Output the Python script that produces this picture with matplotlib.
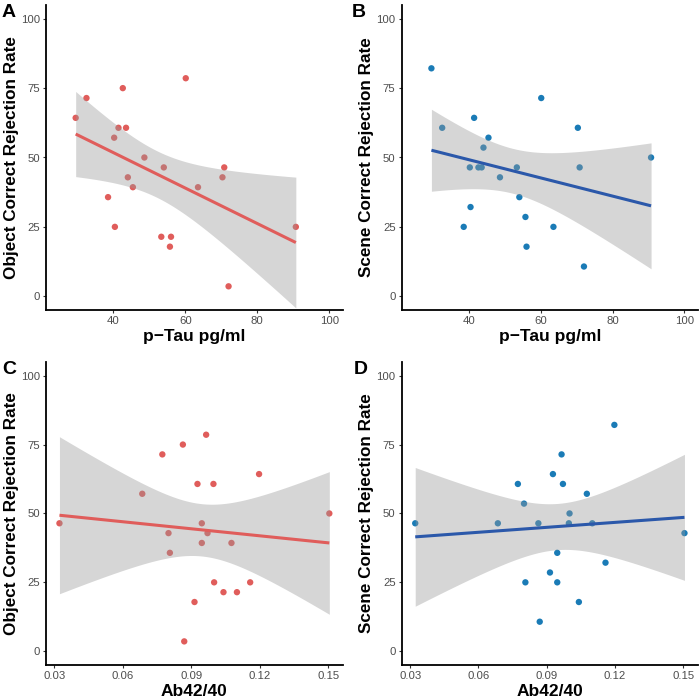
import numpy as np
import matplotlib
matplotlib.use("Agg")
import matplotlib.pyplot as plt

plt.rcParams['font.family'] = ['Liberation Sans', 'DejaVu Sans']

# Per-subject data
ptau = [29.5, 32.5, 38.5, 40.2, 40.4, 41.4, 42.6, 43.5, 44.0, 45.4, 48.6,
        53.3, 54.0, 55.7, 56.0, 60.1, 63.5, 70.3, 70.8, 72.0, 90.7]
ab4240 = [0.1197, 0.0773, 0.0806, 0.0685, 0.1158, 0.0927, 0.0863, 0.0997,
          0.0800, 0.1076, 0.1505, 0.1100, 0.0946, 0.0914, 0.1041, 0.0965,
          0.0946, 0.0971, 0.0322, 0.0869, 0.1000]
object_cr = [64.29, 71.43, 35.71, 57.14, 25.00, 60.71, 75.00, 60.71, 42.86,
             39.29, 50.00, 21.43, 46.43, 17.86, 21.43, 78.57, 39.29, 42.86,
             46.43, 3.57, 25.00]
scene_cr = [82.14, 60.71, 25.00, 46.43, 32.14, 64.29, 46.43, 46.43, 53.57,
            57.14, 42.86, 46.43, 35.71, 28.57, 17.86, 71.43, 25.00, 60.71,
            46.43, 10.71, 50.00]

y_ticks = [0, 25, 50, 75, 100]
ptau_ticks = [40, 60, 80, 100]
ab_ticks = [0.03, 0.06, 0.09, 0.12, 0.15]
ab_ticklabels = ["0.03", "0.06", "0.09", "0.12", "0.15"]

RED = "#E05D5B"
BLUE_PT = "#1A7BB6"
BLUE_LN = "#2B58AA"
T975_DF19 = 2.093  # t quantile for 95% CI, n-2 = 19 df

fig = plt.figure(figsize=(7, 7), dpi=100)

def panel(rect, x, y, pcol, lcol, xlabel, ylabel, xlim, xticks, xticklabels):
    ax = fig.add_axes(rect)
    x = np.asarray(x, float); y = np.asarray(y, float)
    ax.scatter(x, y, s=21, color=pcol, edgecolors='none', zorder=2)
    n = len(x)
    b1, b0 = np.polyfit(x, y, 1)
    xs = np.linspace(x.min(), x.max(), 80)
    yhat = b0 + b1 * xs
    resid = y - (b0 + b1 * x)
    s = np.sqrt(np.sum(resid ** 2) / (n - 2))
    sxx = np.sum((x - x.mean()) ** 2)
    se = s * np.sqrt(1.0 / n + (xs - x.mean()) ** 2 / sxx)
    ax.fill_between(xs, yhat - T975_DF19 * se, yhat + T975_DF19 * se,
                    color="#999999", alpha=0.4, linewidth=0, zorder=3)
    ax.plot(xs, yhat, color=lcol, lw=2.2, zorder=4, solid_capstyle='butt')
    ax.set_ylim(-5, 105)
    ax.set_xlim(*xlim)
    ax.set_yticks(y_ticks)
    ax.set_xticks(xticks)
    if xticklabels is not None:
        ax.set_xticklabels(xticklabels)
    for sp in ['top', 'right']:
        ax.spines[sp].set_visible(False)
    for sp in ['left', 'bottom']:
        ax.spines[sp].set_linewidth(1.3)
        ax.spines[sp].set_color('black')
    ax.tick_params(axis='both', labelsize=8.2, colors='#333333',
                   labelcolor='#4D4D4D', length=2.5, width=0.8, pad=2)
    ax.set_xlabel(xlabel, fontsize=12.5, fontweight='bold', labelpad=2)
    ax.set_ylabel(ylabel, fontsize=12.3, fontweight='bold', labelpad=1.5)
    return ax

ptau_lim = (21.25, 103.75)
ab_lim = (0.0263, 0.1564)

panel([0.0657, 0.557, 0.424, 0.436], ptau, object_cr, RED, RED,
      "p\u2212Tau pg/ml", "Object Correct Rejection Rate", ptau_lim, ptau_ticks, None)
panel([0.574, 0.557, 0.423, 0.436], ptau, scene_cr, BLUE_PT, BLUE_LN,
      "p\u2212Tau pg/ml", "Scene Correct Rejection Rate", ptau_lim, ptau_ticks, None)
panel([0.0657, 0.050, 0.424, 0.433], ab4240, object_cr, RED, RED,
      "Ab42/40", "Object Correct Rejection Rate", ab_lim, ab_ticks, ab_ticklabels)
panel([0.574, 0.050, 0.423, 0.433], ab4240, scene_cr, BLUE_PT, BLUE_LN,
      "Ab42/40", "Scene Correct Rejection Rate", ab_lim, ab_ticks, ab_ticklabels)

for letter, (px, py) in zip("ABCD", [(2, 4), (352, 4), (2, 361), (354, 361)]):
    fig.text(px / 700, 1 - py / 700, letter, fontsize=14, fontweight='bold',
             ha='left', va='top')

fig.savefig("out.png", dpi=100)
